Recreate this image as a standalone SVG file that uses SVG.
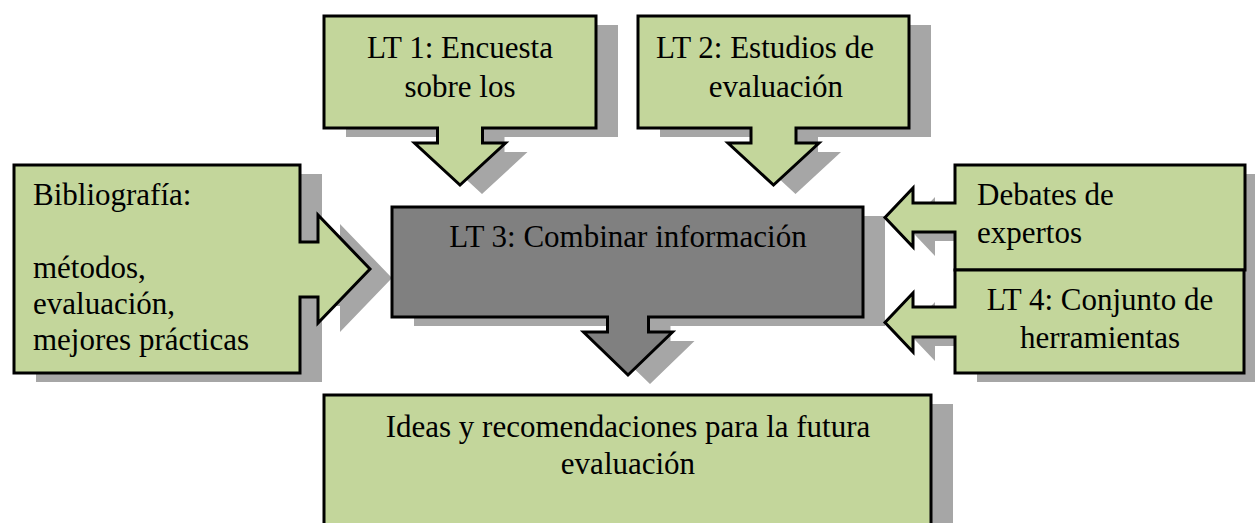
<svg xmlns="http://www.w3.org/2000/svg" width="1255" height="523" viewBox="0 0 1255 523">
<style>
.sh{fill:#a6a6a6;stroke:none}
.g{fill:#c3d69b;stroke:#000;stroke-width:3;stroke-linejoin:miter}
.d{fill:#808080;stroke:#000;stroke-width:3;stroke-linejoin:miter}
text{font-family:"Liberation Serif","Times New Roman",serif;font-size:31px;fill:#000}
.c{text-anchor:middle}
</style>
<defs>
<path id="p1" d="M324,16 H596 V128 H482.5 V143 H505.5 L460,185 L414.5,143 H437.5 V128 H324 Z"/>
<path id="p2" d="M638,16 H909 V128 H796 V143 H819 L773.5,185 L728,143 H751 V128 H638 Z"/>
<path id="pb" d="M14,165 H300 V242 H318 V215 L370,269 L318,323 V297 H300 V373 H14 Z"/>
<path id="pc" d="M392,207 H863 V317 H648.5 V332 H672.5 L628,375 L583.5,332 H607.5 V317 H392 Z"/>
<path id="pd" d="M955,165 H1245 V270 H955 V232 H913 V247 L885,217.5 L913,188 V203 H955 Z"/>
<path id="p4" d="M955,270 H1244 V373 H955 V337 H913 V352 L885,322.5 L913,293 V307 H955 Z"/>
<rect id="pf" x="324" y="395" width="607" height="130"/>
</defs>
<g id="shadows" transform="translate(22,9)">
<use href="#p1" class="sh"/>
<use href="#p2" class="sh"/>
<use href="#pb" class="sh"/>
<use href="#pc" class="sh"/>
<use href="#pd" class="sh"/>
<use href="#p4" class="sh"/>
<use href="#pf" class="sh"/>
</g>
<g id="connectors"></g>
<g id="lt1">
<use href="#p1" class="g"/>
<text class="c" x="460" y="58">LT 1: Encuesta</text>
<text class="c" x="460" y="97">sobre los</text>
</g>
<g id="lt2">
<use href="#p2" class="g"/>
<text class="c" x="765" y="58">LT 2: Estudios de</text>
<text class="c" x="776" y="97">evaluación</text>
</g>
<g id="bibliografia">
<use href="#pb" class="g"/>
<text x="33" y="205">Bibliografía:</text>
<text x="33" y="278">métodos,</text>
<text x="33" y="314">evaluación,</text>
<text x="33" y="350">mejores prácticas</text>
</g>
<g id="lt3">
<use href="#pc" class="d"/>
<text class="c" x="628" y="247">LT 3: Combinar información</text>
</g>
<g id="debates">
<use href="#pd" class="g"/>
<text x="977" y="205">Debates de</text>
<text x="977" y="243">expertos</text>
</g>
<g id="lt4">
<use href="#p4" class="g"/>
<text class="c" x="1100" y="310">LT 4: Conjunto de</text>
<text class="c" x="1100" y="348">herramientas</text>
</g>
<g id="ideas">
<use href="#pf" class="g"/>
<text class="c" x="628" y="437">Ideas y recomendaciones para la futura</text>
<text class="c" x="628" y="474">evaluación</text>
</g>
</svg>
